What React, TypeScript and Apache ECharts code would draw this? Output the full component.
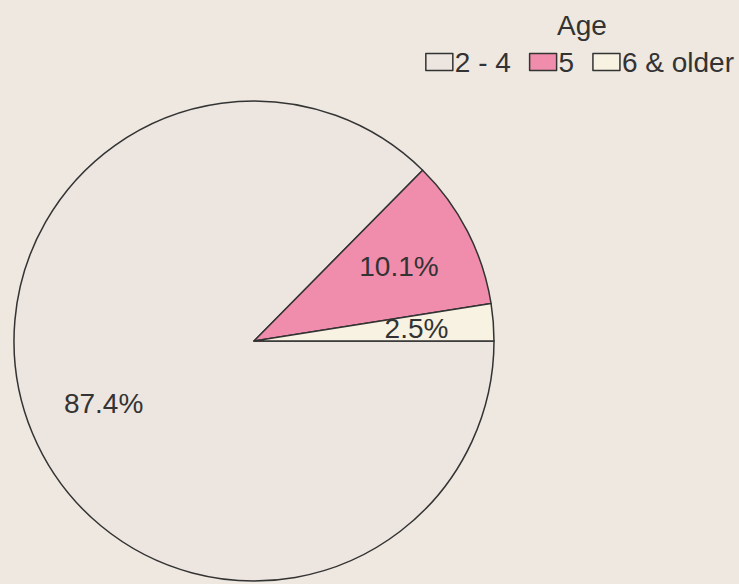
import React, { useEffect, useRef } from "react";
import * as echarts from "echarts";

const categories = ["2 - 4", "5", "6 & older"];
const values = [87.4, 10.1, 2.5];
const colors = ["#ede5df", "#f08dac", "#f7f2e1"];
const legendTitle = "Age";

export default function App() {
  const ref = useRef<HTMLDivElement>(null);
  useEffect(() => {
    if (!ref.current) return;
    const chart = echarts.init(ref.current, null, { renderer: "svg" });
    const data = categories.map((name, i) => ({
      name,
      value: values[i],
      itemStyle: { color: colors[i] },
    }));
    chart.setOption({
      animation: false,
      backgroundColor: "#eee8e0",
      textStyle: { fontFamily: "Liberation Sans, Arial, sans-serif" },
      title: {
        text: legendTitle,
        left: 577,
        top: 6,
        textAlign: "center",
        textStyle: {
          fontSize: 28,
          fontWeight: "normal",
          color: "#333",
          fontFamily: "Liberation Sans, Arial, sans-serif",
        },
      },
      legend: {
        data: categories,
        right: 0,
        top: 43,
        itemWidth: 27,
        itemHeight: 17,
        itemGap: 18,
        icon: "rect",
        textStyle: {
          fontSize: 28,
          color: "#333",
          padding: [0, 0, 0, -3],
          fontFamily: "Liberation Sans, Arial, sans-serif",
        },
        itemStyle: { borderColor: "#333", borderWidth: 1.5 },
        selectedMode: false,
      },
      series: [
        {
          type: "pie",
          center: [254, 341],
          radius: [0, 240],
          startAngle: 0,
          clockwise: true,
          silent: true,
          data,
          itemStyle: { borderColor: "#333", borderWidth: 1.5 },
          label: { show: false },
          labelLine: { show: false },
        },
        {
          type: "pie",
          center: [254, 341],
          radius: [0, 320],
          startAngle: 0,
          clockwise: true,
          silent: true,
          data: categories.map((name, i) => ({ name, value: values[i] })),
          itemStyle: { color: "rgba(0,0,0,0)", borderWidth: 0 },
          label: {
            show: true,
            position: "inside",
            formatter: (p: any) => p.value.toFixed(1) + "%",
            fontSize: 28,
            color: "#333",
            fontFamily: "Liberation Sans, Arial, sans-serif",
          },
          labelLine: { show: false },
          z: 3,
        },
      ],
    });
    return () => chart.dispose();
  }, []);
  return (
    <div
      ref={ref}
      style={{ position: "fixed", left: 0, top: 0, width: 739, height: 584 }}
    />
  );
}
